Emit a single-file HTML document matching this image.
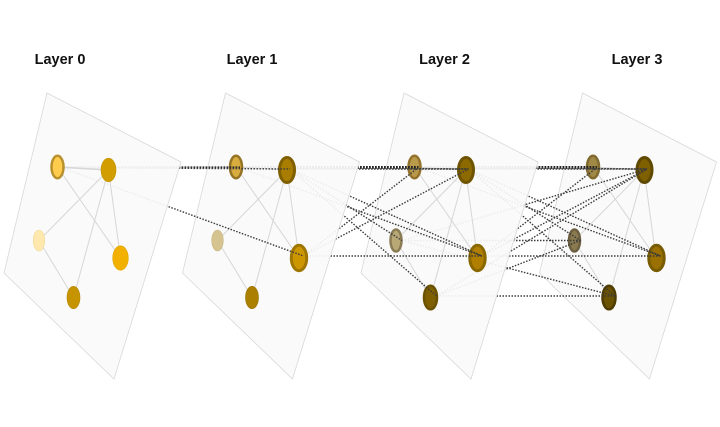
<!DOCTYPE html>
<html lang="en">
<head>
<meta charset="utf-8">
<title>Layers</title>
<style>
html,body{margin:0;padding:0;background:#fff;}
svg{display:block;width:720px;height:427px;}
text{font-family:"Liberation Sans",sans-serif;font-weight:700;font-size:14.5px;fill:#111;text-anchor:middle;}
.g{filter:blur(.35px);}
.plane{fill:#fafafa;fill-opacity:.93;stroke:#d8d8d8;stroke-width:.8;}
.e line{stroke:#d6d6d6;stroke-width:1;}
.x line{stroke:#3a3a3a;stroke-width:1.4;stroke-dasharray:1.5 1.5;}
.x line.t{stroke:#222;stroke-width:3;stroke-dasharray:1.8 1.2;}
.x line.m{stroke:#2a2a2a;stroke-width:2.2;stroke-dasharray:1.8 1.2;}
</style>
</head>
<body>
<svg xmlns="http://www.w3.org/2000/svg" width="720" height="427" viewBox="0 0 720 427">
<text x="60" y="64">Layer 0</text>
<text x="252" y="64">Layer 1</text>
<text x="444.5" y="64">Layer 2</text>
<text x="637" y="64">Layer 3</text>
<g class="g">
<!-- Layer 3 -->
<polygon class="plane" points="582.5,93 716.5,162 649.5,379 539.5,273"/>
<g class="e">
<line x1="593" y1="167" x2="644" y2="170"/><line x1="593" y1="167" x2="656" y2="258"/>
<line x1="644" y1="170" x2="574.5" y2="240.5"/><line x1="644" y1="170" x2="656" y2="258"/>
<line x1="644" y1="170" x2="609" y2="297.5"/><line x1="574.5" y1="240.5" x2="609" y2="297.5"/>
</g>
<ellipse cx="593" cy="167" rx="6" ry="11.2" fill="#a08845" stroke="#806a30" stroke-width="2.5"/>
<ellipse cx="644.5" cy="170" rx="7.5" ry="12.5" fill="#7f6000" stroke="#5f4800" stroke-width="3"/>
<ellipse cx="574.5" cy="240.5" rx="5.5" ry="11" fill="#8a7a50" stroke="#6d6040" stroke-width="2.5"/>
<ellipse cx="656.5" cy="258" rx="7.7" ry="12.7" fill="#9a7000" stroke="#7a5c00" stroke-width="3"/>
<ellipse cx="609" cy="297.5" rx="6.5" ry="11.8" fill="#6b5200" stroke="#4f3c00" stroke-width="2.5"/>

<!-- Connections 2 to 3 -->
<g class="x">
<line class="t" x1="418.5" y1="167.5" x2="597" y2="167.5"/>
<line x1="418.5" y1="167.5" x2="647" y2="169"/>
<line x1="468.5" y1="169" x2="647" y2="169"/>
<line x1="418.5" y1="167.5" x2="660.5" y2="256"/>
<line x1="468.5" y1="169" x2="660.5" y2="256"/>
<line x1="468.5" y1="169" x2="580.5" y2="240.5"/>
<line x1="468.5" y1="169" x2="615" y2="296"/>
<line x1="482" y1="256" x2="597" y2="167.5"/>
<line x1="482" y1="256" x2="647" y2="169"/>
<line x1="482" y1="256" x2="660.5" y2="256"/>
<line x1="402" y1="240.5" x2="647" y2="169"/>
<line x1="402" y1="240.5" x2="580.5" y2="240.5"/>
<line x1="402" y1="240.5" x2="615" y2="296"/>
<line x1="436.5" y1="296" x2="647" y2="169"/>
<line x1="436.5" y1="296" x2="580.5" y2="240.5"/>
<line x1="436.5" y1="296" x2="615" y2="296"/>
</g>

<!-- Layer 2 -->
<polygon class="plane" points="404,93 538,162 471,379 361,273"/>
<g class="e">
<line x1="414.5" y1="167" x2="465.5" y2="170"/><line x1="414.5" y1="167" x2="477.5" y2="258"/>
<line x1="465.5" y1="170" x2="396" y2="240.5"/><line x1="465.5" y1="170" x2="477.5" y2="258"/>
<line x1="465.5" y1="170" x2="430.5" y2="297.5"/><line x1="396" y1="240.5" x2="430.5" y2="297.5"/>
</g>
<ellipse cx="414.5" cy="167" rx="6" ry="11.2" fill="#b99a4a" stroke="#94722b" stroke-width="2.5"/>
<ellipse cx="466" cy="170" rx="7.5" ry="12.5" fill="#8c6a00" stroke="#6e5300" stroke-width="3"/>
<ellipse cx="396" cy="240.5" rx="5.5" ry="11" fill="#b8a876" stroke="#8a7c54" stroke-width="2.5"/>
<ellipse cx="477.5" cy="258" rx="7.7" ry="12.7" fill="#b07f00" stroke="#8a6800" stroke-width="3"/>
<ellipse cx="430.5" cy="297.5" rx="6.5" ry="11.8" fill="#7f6000" stroke="#6b5200" stroke-width="2.5"/>

<!-- Connections 1 to 2 -->
<g class="x">
<line class="t" x1="240" y1="167.5" x2="418.5" y2="167.5"/>
<line x1="240" y1="167.5" x2="468.5" y2="169"/>
<line x1="290" y1="169" x2="468.5" y2="169"/>
<line x1="240" y1="167.5" x2="482" y2="256"/>
<line x1="290" y1="169" x2="482" y2="256"/>
<line x1="290" y1="169" x2="402" y2="240.5"/>
<line x1="290" y1="169" x2="436.5" y2="296"/>
<line x1="303.5" y1="256" x2="418.5" y2="167.5"/>
<line x1="303.5" y1="256" x2="468.5" y2="169"/>
<line x1="303.5" y1="256" x2="482" y2="256"/>
</g>

<!-- Layer 1 -->
<polygon class="plane" points="225.5,93 359.5,162 292.5,379 182.5,273"/>
<g class="e">
<line x1="236" y1="167" x2="287" y2="170"/><line x1="236" y1="167" x2="299" y2="258"/>
<line x1="287" y1="170" x2="217.5" y2="240.5"/><line x1="287" y1="170" x2="299" y2="258"/>
<line x1="287" y1="170" x2="252" y2="297.5"/><line x1="217.5" y1="240.5" x2="252" y2="297.5"/>
</g>
<ellipse cx="236" cy="167" rx="6" ry="11.2" fill="#d9ac3f" stroke="#957325" stroke-width="2.5"/>
<ellipse cx="287" cy="170" rx="7.5" ry="12.5" fill="#a87d00" stroke="#7f5f00" stroke-width="3"/>
<ellipse cx="217.5" cy="240.5" rx="5.8" ry="10.5" fill="#d5c48f" stroke="#c9b985" stroke-width=".6"/>
<ellipse cx="299" cy="258" rx="7.7" ry="12.7" fill="#cc9600" stroke="#9f7600" stroke-width="3"/>
<ellipse cx="252" cy="297.5" rx="6.5" ry="11.2" fill="#ab7f00" stroke="#9a7200" stroke-width=".6"/>

<!-- Connections 0 to 1 -->
<g class="x">
<line class="m" x1="61.5" y1="167.5" x2="240" y2="167.5"/>
<line x1="61.5" y1="167.5" x2="290" y2="169"/>
<line x1="61.5" y1="167.5" x2="303.5" y2="256"/>
</g>

<!-- Layer 0 -->
<polygon class="plane" points="47,93 181,162 114,379 4,273"/>
<g class="e">
<line x1="57.5" y1="167" x2="108.5" y2="170" style="stroke-width:1.5"/><line x1="57.5" y1="167" x2="120.5" y2="258"/>
<line x1="108.5" y1="170" x2="39" y2="240.5"/><line x1="108.5" y1="170" x2="120.5" y2="258"/>
<line x1="108.5" y1="170" x2="73.5" y2="297.5"/><line x1="39" y1="240.5" x2="73.5" y2="297.5"/>
</g>
<ellipse cx="57.5" cy="167" rx="6" ry="11.2" fill="#ffcc4d" stroke="#b8902d" stroke-width="2.5"/>
<ellipse cx="108.5" cy="170" rx="7.5" ry="11.8" fill="#d19d00" stroke="#c49300" stroke-width=".6"/>
<ellipse cx="39" cy="240.5" rx="5.8" ry="10.5" fill="#fee8ad" stroke="#f0d998" stroke-width=".6"/>
<ellipse cx="120.5" cy="258" rx="7.8" ry="12.2" fill="#f2b100" stroke="#dfa300" stroke-width=".6"/>
<ellipse cx="73.5" cy="297.5" rx="6.5" ry="11.2" fill="#c69400" stroke="#b68800" stroke-width=".6"/>
</g>
</svg>
</body>
</html>
